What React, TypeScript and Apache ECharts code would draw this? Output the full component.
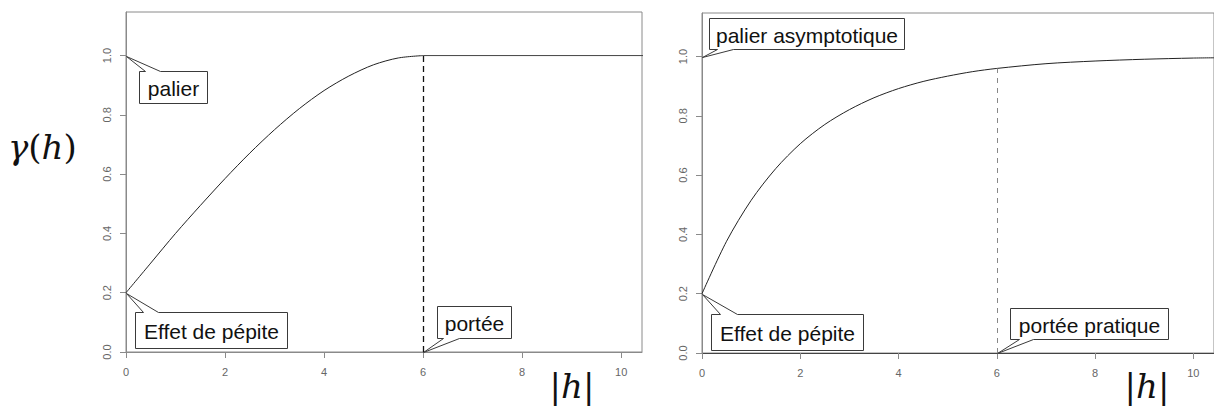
import React, { useEffect, useRef } from "react";
import * as echarts from "echarts";

// ---------- data ----------
const X_MAX = 10.42;
const Y_MAX = 1.147;
const X_TICKS = [0, 2, 4, 6, 8, 10];
const Y_TICKS = [0, 0.2, 0.4, 0.6, 0.8, 1.0];

// spherical model (left panel)
const SPH_H = [0, 0.5, 1, 1.5, 2, 2.5, 3, 3.5, 4, 4.5, 5, 5.5, 6];
const SPH_G = [0.2, 0.3, 0.4, 0.494, 0.585, 0.671, 0.75, 0.821, 0.882, 0.931, 0.969, 0.992, 1.0];
const SPH_PLATEAU_H = [6, 10.5];
const SPH_PLATEAU_G = [1.0, 1.0];

// exponential model (right panel)
const EXP_H = [0, 0.5, 1, 1.5, 2, 2.5, 3, 3.5, 4, 4.5, 5, 5.5, 6, 7, 8, 9, 10, 10.5];
const EXP_G = [0.2, 0.377, 0.515, 0.622, 0.706, 0.771, 0.821, 0.861, 0.892, 0.916, 0.934, 0.949, 0.96, 0.976, 0.985, 0.991, 0.995, 0.996];

const SILL = 1.0;
const RANGE = 6;
const RANGE_G_LEFT = 1.0;
const RANGE_G_RIGHT = 0.96;

const ANNOT_TEXT = ["palier", "Effet de pépite", "portée", "palier asymptotique", "Effet de pépite", "portée pratique"];
const ANNOT_PANEL = [0, 0, 0, 1, 1, 1];
const ANNOT_X = [0, 0, 6, 0, 0, 6];
const ANNOT_Y = [1.0, 0.2, 0, 1.0, 0.2, 0];

// ---------- layout / style ----------
const BOXES = [
  { dx: 13, dy: 15, w: 68, h: 32, p1: 6, p2: 21, edge: "top" },
  { dx: 9, dy: 19, w: 152, h: 36, p1: 8, p2: 23, edge: "top" },
  { dx: 14, dy: -46, w: 74, h: 32, p1: 6, p2: 22, edge: "bottom" },
  { dx: 7, dy: -39, w: 195, h: 31, p1: 8, p2: 24, edge: "bottom" },
  { dx: 9, dy: 20, w: 152, h: 36, p1: 9, p2: 26, edge: "top" },
  { dx: 13, dy: -45, w: 158, h: 31, p1: 9, p2: 23, edge: "bottom" },
];

const GRIDS = [
  { left: 126, top: 12, width: 516, height: 340 },
  { left: 702, top: 13, width: 516, height: 340 },
];

const SANS = "'Liberation Sans', Arial, sans-serif";
const SERIF = "'DejaVu Serif', 'Liberation Serif', serif";
const FRAME = "#8a8a8a";
const LABEL = "#666";

function pairs(xs: number[], ys: number[]) {
  return xs.map((x, i) => [x, ys[i]]);
}

function axes(i: number, bottomColor: string) {
  return {
    x: {
      type: "value",
      gridIndex: i,
      min: 0,
      max: X_MAX,
      axisLine: { show: true, onZero: false, lineStyle: { color: bottomColor, width: 1 } },
      axisTick: { show: true, length: 6, customValues: X_TICKS, lineStyle: { color: FRAME } },
      axisLabel: {
        customValues: X_TICKS,
        color: LABEL,
        fontSize: 11,
        fontFamily: SANS,
        margin: 14,
      },
      splitLine: { show: false },
    },
    y: {
      type: "value",
      gridIndex: i,
      min: 0,
      max: Y_MAX,
      axisLine: { show: true, onZero: false, lineStyle: { color: FRAME, width: 1 } },
      axisTick: { show: true, length: 6, customValues: Y_TICKS, lineStyle: { color: FRAME } },
      axisLabel: {
        customValues: Y_TICKS,
        rotate: 90,
        color: LABEL,
        fontSize: 11,
        fontFamily: SANS,
        margin: 14,
        formatter: (v: number) => v.toFixed(1),
      },
      splitLine: { show: false },
    },
  };
}

function dashedMarks(i: number, vTop: number, vColor: string, vDash: number[], vWidth: number) {
  return {
    silent: true,
    symbol: ["none", "none"],
    label: { show: false },
    animation: false,
    data: [
      [
        { coord: [0, SILL], lineStyle: { color: "#888", type: [5, 5], width: 1 } },
        { coord: [X_MAX + 1, SILL] },
      ],
      [
        { coord: [RANGE, 0], lineStyle: { color: vColor, type: vDash, width: vWidth } },
        { coord: [RANGE, vTop] },
      ],
    ],
  };
}

function buildOption() {
  const a0 = axes(0, FRAME);
  const a1 = axes(1, "#444");
  return {
    animation: false,
    backgroundColor: "#fff",
    grid: GRIDS.map((g) => ({ ...g, show: true, borderColor: FRAME, borderWidth: 1, backgroundColor: "transparent" })),
    xAxis: [a0.x, a1.x],
    yAxis: [a0.y, a1.y],
    series: [
      {
        type: "line",
        xAxisIndex: 0,
        yAxisIndex: 0,
        data: pairs(SPH_H, SPH_G),
        smooth: 0.3,
        showSymbol: false,
        lineStyle: { color: "#222", width: 1 },
        markLine: dashedMarks(0, RANGE_G_LEFT, "#111", [6, 4], 1.3),
        z: 3,
      },
      {
        type: "line",
        xAxisIndex: 0,
        yAxisIndex: 0,
        data: pairs(SPH_PLATEAU_H, SPH_PLATEAU_G),
        showSymbol: false,
        lineStyle: { color: "#444", width: 1 },
        z: 4,
      },
      {
        type: "line",
        xAxisIndex: 1,
        yAxisIndex: 1,
        data: pairs(EXP_H, EXP_G),
        smooth: 0.3,
        showSymbol: false,
        lineStyle: { color: "#222", width: 1 },
        markLine: dashedMarks(1, RANGE_G_RIGHT, "#888", [5, 5], 1),
        z: 3,
      },
    ],
  };
}

function buildGraphics(chart: echarts.ECharts) {
  const els: any[] = [];
  ANNOT_TEXT.forEach((text, k) => {
    const p = chart.convertToPixel({ gridIndex: ANNOT_PANEL[k] } as any, [ANNOT_X[k], ANNOT_Y[k]]) as number[];
    const b = BOXES[k];
    const ax = Math.round(p[0]) + 0.5;
    const ay = Math.round(p[1]) + 0.5;
    const bx = ax + b.dx;
    const by = ay + b.dy;
    let pts: number[][];
    if (b.edge === "top") {
      pts = [
        [bx, by], [bx + b.p1, by], [ax, ay], [bx + b.p2, by],
        [bx + b.w, by], [bx + b.w, by + b.h], [bx, by + b.h],
      ];
    } else {
      pts = [
        [bx, by], [bx + b.w, by], [bx + b.w, by + b.h], [bx + b.p2, by + b.h],
        [ax, ay], [bx + b.p1, by + b.h], [bx, by + b.h],
      ];
    }
    els.push({
      type: "polygon",
      z: 100,
      shape: { points: pts },
      style: { fill: "#fff", stroke: "#3a3a3a", lineWidth: 1 },
    });
    els.push({
      type: "text",
      z: 101,
      x: bx + b.w / 2,
      y: by + b.h / 2 + 1,
      style: {
        text,
        fontSize: 21,
        fontFamily: SANS,
        fill: "#111",
        align: "center",
        verticalAlign: "middle",
      },
    });
  });

  const mathRich = {
    i: { fontFamily: SERIF, fontStyle: "italic", fontSize: 34, fill: "#111" },
    n: { fontFamily: SERIF, fontSize: 34, fill: "#111" },
  };
  els.push({
    type: "text",
    z: 101,
    x: 8,
    y: 147,
    style: {
      text: "{i|γ}{n|(}{i|h}{n|)}",
      rich: mathRich,
      align: "left",
      verticalAlign: "middle",
    },
  });
  [572, 1147].forEach((cx) => {
    els.push({
      type: "text",
      z: 101,
      x: cx,
      y: 386,
      style: {
        text: "{n||}{i|h}{n||}",
        rich: mathRich,
        align: "center",
        verticalAlign: "middle",
      },
    });
  });
  return els;
}

export default function App() {
  const ref = useRef<HTMLDivElement>(null);
  useEffect(() => {
    const chart = echarts.init(ref.current!, null, { renderer: "svg" });
    chart.setOption(buildOption() as any);
    chart.setOption({ graphic: buildGraphics(chart) } as any);
    return () => chart.dispose();
  }, []);
  return (
    <div
      ref={ref}
      style={{ position: "fixed", left: 0, top: 0, width: 1214, height: 407, background: "#fff" }}
    />
  );
}
